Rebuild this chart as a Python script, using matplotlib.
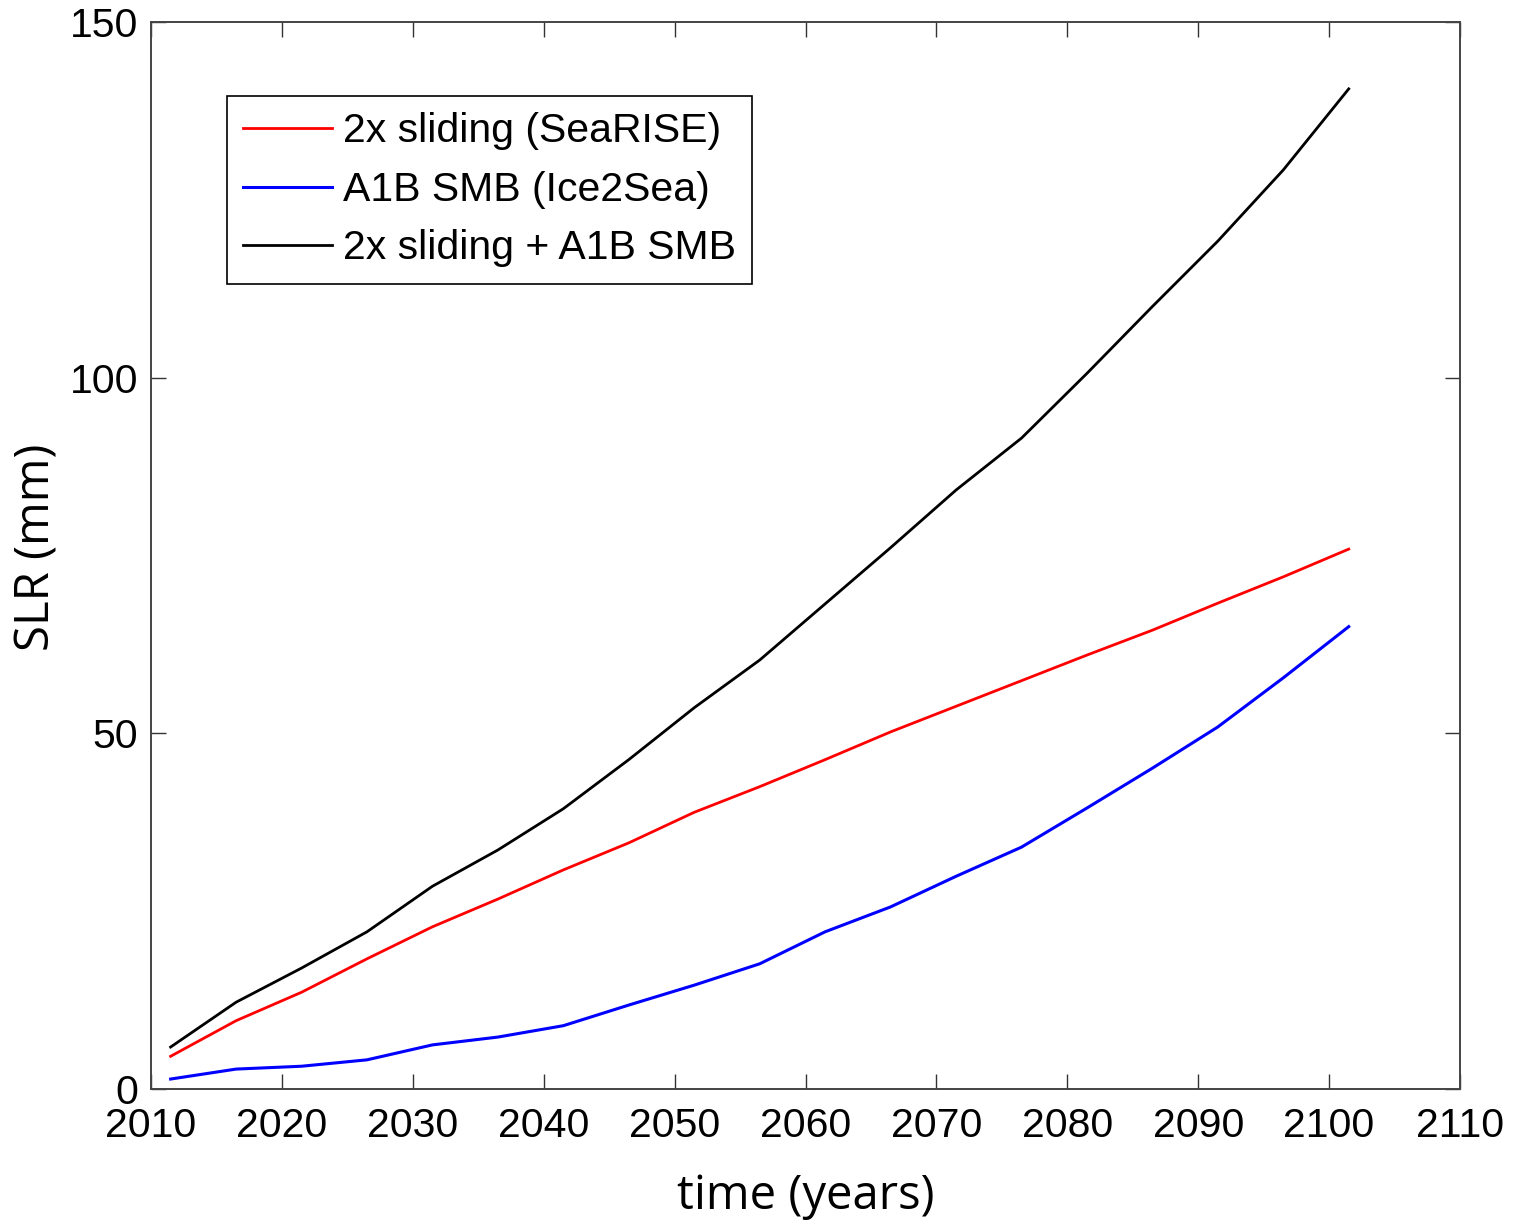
import matplotlib
matplotlib.use("Agg")
import matplotlib.pyplot as plt
import numpy as np

# years of the model output (every 5 years)
years = [2011.5, 2016.5, 2021.5, 2026.5, 2031.5, 2036.5, 2041.5, 2046.5, 2051.5, 2056.5,
         2061.5, 2066.5, 2071.5, 2076.5, 2081.5, 2086.5, 2091.5, 2096.5, 2101.5]

slr_sliding = [4.6, 9.6, 13.6, 18.3, 22.8, 26.7, 30.8, 34.6, 38.9, 42.5,
               46.3, 50.2, 53.8, 57.4, 61.0, 64.5, 68.3, 72.0, 75.9]
slr_smb = [1.4, 2.8, 3.2, 4.1, 6.2, 7.3, 8.9, 11.8, 14.6, 17.6,
           22.1, 25.6, 29.9, 34.0, 39.5, 45.1, 50.9, 57.8, 65.0]
slr_both = [5.9, 12.2, 17.0, 22.1, 28.5, 33.6, 39.4, 46.3, 53.6, 60.3,
            68.2, 76.1, 84.2, 91.5, 100.6, 110.0, 119.2, 129.2, 140.6]

labels = ['2x sliding (SeaRISE)', 'A1B SMB (Ice2Sea)', '2x sliding + A1B SMB']
xticks = np.arange(2010, 2111, 10)
yticks = [0, 50, 100, 150]

plt.rcParams['font.family'] = ['Liberation Sans', 'DejaVu Sans']

fig = plt.figure(figsize=(15.18, 12.27), dpi=100)
ax = fig.add_axes([151/1518, 1 - 1089/1227, (1460-151)/1518, (1089-22)/1227])

ax.plot(years, slr_sliding, color='red', lw=2, label=labels[0])
ax.plot(years, slr_smb, color='blue', lw=2.2, label=labels[1])
ax.plot(years, slr_both, color='black', lw=2, label=labels[2])

ax.set_xlim(2010, 2110)
ax.set_ylim(0, 150)
ax.set_xticks(xticks)
ax.set_yticks(yticks)
ax.tick_params(direction='in', length=11, width=1, top=True, right=True,
               labelsize=29.5, color='#333333')
ax.tick_params(axis='x', pad=13)
ax.tick_params(axis='y', pad=9)
for s in ax.spines.values():
    s.set_linewidth(1.4)
    s.set_color('#444444')

ax.set_xlabel('time (years)', fontsize=34, family='Open Sans')
ax.set_ylabel('SLR (mm)', fontsize=34, family='Open Sans')
ax.xaxis.set_label_coords(0.5, -0.078)
ax.yaxis.set_label_coords(-0.069, 0.508)

leg = ax.legend(loc='upper left', bbox_to_anchor=(76/1309, (1089-96)/1067),
                borderaxespad=0, fontsize=29.5, fancybox=False, framealpha=1,
                edgecolor='black', handlelength=2.17, handletextpad=0.25,
                labelspacing=0.5, borderpad=0.4)
leg.get_frame().set_linewidth(1.2)

fig.savefig('out.png', dpi=100)
